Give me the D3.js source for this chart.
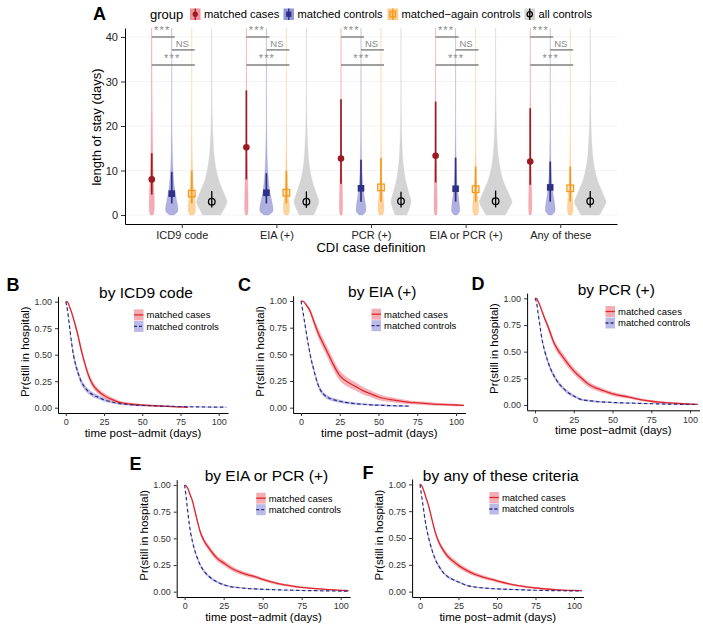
<!DOCTYPE html>
<html>
<head>
<meta charset="utf-8">
<script src="https://cdn.jsdelivr.net/npm/d3@7"></script>
<style>
  body { margin: 0; background: #fff; }
  svg text { font-family: "Liberation Sans", Arial, Helvetica, sans-serif; }
</style>
</head>
<body>
<svg id="fig" width="703" height="629"></svg>
<script>
// ---------- panel A : length of stay ----------
const categories = ["ICD9 code", "EIA (+)", "PCR (+)", "EIA or PCR (+)", "Any of these"];
const groups = ["matched cases", "matched controls", "matched\u2212again controls", "all controls"];
// per category: [cases, controls, again, all]
const medianLOS = [[8.0, 4.8, 4.8, 3.0], [15.2, 5.0, 5.0, 3.0], [12.7, 6.0, 6.2, 3.1], [13.3, 5.9, 5.8, 3.1], [12.0, 6.2, 6.0, 3.1]];
const lowerLOS  = [[4.6, 2.6, 2.6, 1.7], [8.0, 2.6, 2.6, 1.6], [7.0, 3.0, 3.0, 1.7], [7.3, 3.0, 3.0, 1.7], [6.8, 3.0, 3.0, 1.7]];
const upperLOS  = [[13.9, 9.7, 10.0, 5.4], [28.0, 9.4, 9.9, 5.3], [26.0, 12.4, 12.8, 5.2], [25.5, 12.9, 10.9, 5.5], [24.0, 12.0, 10.9, 5.4]];
// violin: relative size per category/group, and shape (relative width) over a grid of days
const violinSize = [[0.16, 0.39, 0.23, 0.96], [0.11, 0.42, 0.19, 0.78], [0.10, 0.31, 0.19, 0.63], [0.10, 0.26, 0.19, 1.02], [0.10, 0.31, 0.18, 0.99]];
const violinGrid = [0, 0.5, 1, 2, 3, 4, 5, 6, 8, 10, 12, 15, 20, 25, 30, 35, 40, 43];
const violinShape = [
  [0.5, 0.8, 0.95, 1, 1, 0.95, 0.9, 0.85, 0.7, 0.55, 0.45, 0.35, 0.25, 0.16, 0.12, 0.1, 0.08, 0.08],
  [0.35, 0.8, 1, 0.95, 0.82, 0.68, 0.55, 0.45, 0.3, 0.2, 0.14, 0.09, 0.04, 0.025, 0.02, 0.015, 0.015, 0.015],
  [0.5, 0.85, 1, 1, 0.88, 0.74, 0.6, 0.5, 0.34, 0.24, 0.17, 0.11, 0.05, 0.03, 0.02, 0.018, 0.015, 0.015],
  [0.58, 0.67, 0.75, 0.9, 1.0, 0.9, 0.78, 0.66, 0.44, 0.3, 0.2, 0.12, 0.05, 0.025, 0.015, 0.012, 0.01, 0.01]
];
const sigPairs = [[0, 1], [1, 2], [0, 2]];
const sigLabels = ["***", "NS", "***"];
const sigLevel = [40, 37.1, 33.7];
const losTicks = [0, 10, 20, 30, 40];

// ---------- panels B-F : survival ----------
const panelLetters = ["B", "C", "D", "E", "F"];
const panelTitles = ["by ICD9 code", "by EIA (+)", "by PCR (+)", "by EIA or PCR (+)", "by any of these criteria"];
const survTime = [0, 1, 2, 3, 4, 5, 6, 8, 10, 12, 15, 18, 21, 25, 30, 35, 40, 45, 50, 60, 70, 75, 80, 90, 100, 105];
const survCases = [
  [1, 1, 0.97, 0.93, 0.89, 0.84, 0.79, 0.68, 0.55, 0.44, 0.30, 0.21, 0.16, 0.115, 0.078, 0.05, 0.038, 0.03, 0.025, 0.017, 0.01, 0.007, 0.004, null, null, null],
  [1, 1, 0.99, 0.97, 0.95, 0.93, 0.90, 0.82, 0.74, 0.67, 0.58, 0.49, 0.40, 0.30, 0.24, 0.20, 0.16, 0.13, 0.10, 0.07, 0.05, 0.045, 0.04, 0.03, 0.025, 0.022],
  [1, 1, 0.97, 0.94, 0.90, 0.86, 0.82, 0.75, 0.67, 0.59, 0.51, 0.45, 0.39, 0.32, 0.25, 0.19, 0.155, 0.13, 0.105, 0.075, 0.045, 0.035, 0.027, 0.016, 0.008, 0.006],
  [1, 0.99, 0.97, 0.93, 0.89, 0.85, 0.79, 0.67, 0.56, 0.49, 0.42, 0.36, 0.31, 0.27, 0.22, 0.185, 0.16, 0.14, 0.115, 0.075, 0.05, 0.04, 0.033, 0.022, 0.013, 0.01],
  [1, 0.99, 0.96, 0.92, 0.87, 0.83, 0.78, 0.66, 0.55, 0.47, 0.39, 0.33, 0.29, 0.245, 0.20, 0.165, 0.14, 0.12, 0.10, 0.065, 0.043, 0.034, 0.027, 0.017, 0.011, 0.01]
];
const survControls = [
  [1, 0.93, 0.82, 0.70, 0.59, 0.50, 0.43, 0.33, 0.25, 0.20, 0.15, 0.12, 0.10, 0.075, 0.055, 0.04, 0.032, 0.026, 0.022, 0.016, 0.012, 0.01, 0.009, 0.007, 0.006, 0.006],
  [1, 0.92, 0.83, 0.74, 0.65, 0.57, 0.49, 0.37, 0.26, 0.18, 0.12, 0.09, 0.075, 0.06, 0.047, 0.038, 0.032, 0.027, 0.023, 0.018, 0.015, null, null, null, null, null],
  [1, 0.96, 0.86, 0.76, 0.66, 0.58, 0.52, 0.42, 0.34, 0.28, 0.21, 0.16, 0.12, 0.085, 0.05, 0.04, 0.032, 0.027, 0.023, 0.018, 0.014, 0.012, 0.01, 0.007, 0.005, 0.004],
  [1, 0.88, 0.75, 0.63, 0.54, 0.47, 0.41, 0.32, 0.25, 0.20, 0.15, 0.115, 0.09, 0.065, 0.045, 0.037, 0.03, 0.026, 0.022, 0.017, 0.013, 0.011, 0.01, 0.008, 0.006, 0.006],
  [1, 0.90, 0.80, 0.70, 0.61, 0.54, 0.48, 0.38, 0.30, 0.245, 0.18, 0.14, 0.115, 0.09, 0.06, 0.045, 0.036, 0.03, 0.026, 0.02, 0.015, 0.013, 0.011, 0.009, 0.007, 0.006]
];
// confidence band half-widths
const ciCases = [
  [0, 0.005, 0.01, 0.015, 0.02, 0.022, 0.025, 0.03, 0.032, 0.033, 0.032, 0.03, 0.027, 0.023, 0.02, 0.016, 0.014, 0.012, 0.011, 0.009, 0.007, 0.006, 0.005, 0, 0, 0],
  [0, 0.004, 0.008, 0.013, 0.018, 0.022, 0.027, 0.035, 0.042, 0.046, 0.049, 0.05, 0.05, 0.048, 0.044, 0.04, 0.036, 0.032, 0.028, 0.022, 0.018, 0.016, 0.015, 0.013, 0.012, 0.011],
  [0, 0.004, 0.008, 0.012, 0.016, 0.02, 0.023, 0.028, 0.032, 0.034, 0.035, 0.035, 0.034, 0.032, 0.029, 0.026, 0.023, 0.02, 0.018, 0.015, 0.012, 0.011, 0.01, 0.008, 0.006, 0.005],
  [0, 0.003, 0.006, 0.009, 0.012, 0.015, 0.018, 0.022, 0.025, 0.026, 0.027, 0.027, 0.026, 0.025, 0.023, 0.021, 0.019, 0.017, 0.015, 0.012, 0.01, 0.009, 0.008, 0.006, 0.005, 0.005],
  [0, 0.003, 0.006, 0.009, 0.012, 0.015, 0.017, 0.021, 0.024, 0.025, 0.026, 0.026, 0.025, 0.024, 0.022, 0.02, 0.018, 0.016, 0.014, 0.011, 0.009, 0.008, 0.007, 0.006, 0.005, 0.005]
];
const ciControls = [
  [0, 0.01, 0.018, 0.024, 0.028, 0.03, 0.031, 0.031, 0.029, 0.027, 0.024, 0.021, 0.019, 0.016, 0.013, 0.011, 0.01, 0.009, 0.008, 0.007, 0.006, 0.005, 0.005, 0.004, 0.004, 0.004],
  [0, 0.01, 0.016, 0.02, 0.023, 0.025, 0.026, 0.026, 0.025, 0.023, 0.02, 0.018, 0.016, 0.014, 0.012, 0.011, 0.01, 0.009, 0.008, 0.007, 0.006, 0, 0, 0, 0, 0],
  [0, 0.008, 0.014, 0.018, 0.021, 0.023, 0.024, 0.024, 0.023, 0.022, 0.02, 0.018, 0.016, 0.013, 0.01, 0.009, 0.008, 0.007, 0.006, 0.005, 0.005, 0.004, 0.004, 0.003, 0.003, 0.003],
  [0, 0.006, 0.01, 0.013, 0.015, 0.016, 0.017, 0.017, 0.016, 0.015, 0.013, 0.012, 0.01, 0.009, 0.007, 0.006, 0.006, 0.005, 0.005, 0.004, 0.004, 0.003, 0.003, 0.003, 0.003, 0.003],
  [0, 0.006, 0.01, 0.013, 0.015, 0.016, 0.017, 0.017, 0.016, 0.015, 0.013, 0.012, 0.01, 0.009, 0.007, 0.006, 0.006, 0.005, 0.005, 0.004, 0.004, 0.003, 0.003, 0.003, 0.003, 0.003]
];
const survTicksX = [0, 25, 50, 75, 100];
const survTicksY = [0, 0.25, 0.5, 0.75, 1];
const survLegend = ["matched cases", "matched controls"];

// ---------- styles ----------
const darkCol = ["#9b1b22", "#2e2f86", "#f39a1e", "#000000"];
const violinCol = ["#ee7e88", "#8486cf", "#fcc074", "#d4d4d4"];
const violinOp = [0.65, 0.65, 0.7, 1];
const caseLine = "#e0262f", caseBand = "#f19aa0";
const ctrlLine = "#2d2d80", ctrlBand = "#a9a9e2";

const svg = d3.select("#fig");
svg.append("rect").attr("width", 703).attr("height", 629).attr("fill", "#fff");

// ================= Panel A =================
const aBox = { left: 125, right: 617, top: 28, bottom: 224 };
const yA = d3.scaleLinear().domain([-2.02, 42.02]).range([aBox.bottom, aBox.top]);
const xA = d3.scalePoint().domain(categories).range([aBox.left, aBox.right]).padding(0.6);
const dodge = d3.scaleBand().domain(groups).range([-40, 40]);
const wA = d3.scaleLinear().domain([0, 1]).range([0, 16]);
const gx = (ci, gi) => xA(categories[ci]) + dodge(groups[gi]) + dodge.bandwidth() / 2;

svg.append("clipPath").attr("id", "clipA").append("rect")
  .attr("x", aBox.left).attr("y", aBox.top)
  .attr("width", aBox.right - aBox.left).attr("height", aBox.bottom - aBox.top);

const gA = svg.append("g");
gA.selectAll("line.grid").data(losTicks).join("line")
  .attr("x1", aBox.left).attr("x2", aBox.right)
  .attr("y1", d => yA(d)).attr("y2", d => yA(d))
  .attr("stroke", "#ececec").attr("stroke-width", 0.7);

const plotA = gA.append("g").attr("clip-path", "url(#clipA)");

categories.forEach((cat, ci) => {
  groups.forEach((grp, gi) => {
    const cx = gx(ci, gi);
    const pts = violinGrid.map((v, k) => ({ v: v, w: wA(violinSize[ci][gi] * violinShape[gi][k]) }));
    const area = d3.area()
      .y(d => yA(d.v))
      .x0(d => cx - d.w).x1(d => cx + d.w)
      .curve(d3.curveMonotoneY);
    plotA.append("path").attr("d", area(pts))
      .attr("fill", violinCol[gi]).attr("fill-opacity", violinOp[gi])
      .attr("stroke", violinCol[gi]).attr("stroke-opacity", violinOp[gi]).attr("stroke-width", 0.35);
  });
  groups.forEach((grp, gi) => {
    const cx = gx(ci, gi);
    plotA.append("line")
      .attr("x1", cx).attr("x2", cx)
      .attr("y1", yA(lowerLOS[ci][gi])).attr("y2", yA(upperLOS[ci][gi]))
      .attr("stroke", darkCol[gi]).attr("stroke-width", gi === 3 ? 1.3 : 1.7);
    drawPoint(plotA, gi, cx, yA(medianLOS[ci][gi]), 1);
  });
  // significance brackets
  sigPairs.forEach((pr, k) => {
    const x1 = gx(ci, pr[0]), x2 = gx(ci, pr[1]) + 3;
    const yy = yA(sigLevel[k]);
    gA.append("line").attr("x1", x1).attr("x2", x2).attr("y1", yy).attr("y2", yy)
      .attr("stroke", "#7f7f7f").attr("stroke-width", 1.4);
    gA.append("text").attr("x", (x1 + x2) / 2 - 1).attr("y", yy - 3)
      .attr("text-anchor", "middle").attr("fill", "#8a8a8a")
      .attr("font-size", sigLabels[k] === "NS" ? 9.5 : 11)
      .attr("letter-spacing", sigLabels[k] === "NS" ? 0 : 1.2)
      .text(sigLabels[k]);
  });
});

function drawPoint(g, gi, cx, cy, s) {
  if (gi === 0) {
    g.append("circle").attr("cx", cx).attr("cy", cy).attr("r", 3.3 * s).attr("fill", darkCol[0]);
  } else if (gi === 1) {
    g.append("rect").attr("x", cx - 3.3 * s).attr("y", cy - 3.3 * s)
      .attr("width", 6.6 * s).attr("height", 6.6 * s).attr("fill", darkCol[1]);
  } else if (gi === 2) {
    g.append("rect").attr("x", cx - 3.3 * s).attr("y", cy - 3.3 * s)
      .attr("width", 6.6 * s).attr("height", 6.6 * s)
      .attr("fill", "none").attr("stroke", darkCol[2]).attr("stroke-width", 1.3);
  } else {
    g.append("circle").attr("cx", cx).attr("cy", cy).attr("r", 3.3 * s)
      .attr("fill", "none").attr("stroke", darkCol[3]).attr("stroke-width", 1.3);
  }
}

// axes A
const axYA = gA.append("g").attr("transform", `translate(${aBox.left},0)`)
  .call(d3.axisLeft(yA).tickValues(losTicks).tickSize(4).tickSizeOuter(0));
const axXA = gA.append("g").attr("transform", `translate(0,${aBox.bottom})`)
  .call(d3.axisBottom(xA).tickSize(4).tickSizeOuter(0));
[axYA, axXA].forEach(ax => {
  ax.select(".domain").attr("stroke", "#000").attr("stroke-width", 1);
  ax.selectAll(".tick line").attr("stroke", "#333");
  ax.selectAll(".tick text").attr("fill", "#222").attr("font-size", 11)
    .attr("font-family", "Liberation Sans, Arial, sans-serif");
});

svg.append("text").attr("transform", `translate(101,${(aBox.top + aBox.bottom) / 2 + 1}) rotate(-90)`)
  .attr("text-anchor", "middle").attr("font-size", 13).text("length of stay (days)");
svg.append("text").attr("x", (aBox.left + aBox.right) / 2).attr("y", 251.5)
  .attr("text-anchor", "middle").attr("font-size", 13).text("CDI case definition");
svg.append("text").attr("x", 93).attr("y", 19.5).attr("font-size", 18).attr("font-weight", "bold").text("A");

// legend A
const legA = svg.append("g");
legA.append("text").attr("x", 150).attr("y", 18.5).attr("font-size", 13).text("group");
const legX = [190, 283.5, 387.5, 524.5];
groups.forEach((grp, gi) => {
  const kx = legX[gi];
  legA.append("rect").attr("x", kx).attr("y", 8.5).attr("width", 10.5).attr("height", 11.5)
    .attr("fill", violinCol[gi]).attr("fill-opacity", gi === 3 ? 1 : 0.85);
  legA.append("line").attr("x1", kx + 5.25).attr("x2", kx + 5.25).attr("y1", 8.5).attr("y2", 20)
    .attr("stroke", darkCol[gi]).attr("stroke-width", 1.3);
  drawPoint(legA, gi, kx + 5.25, 14.25, 0.8);
  legA.append("text").attr("x", kx + 14).attr("y", 18.3).attr("font-size", 11.2).text(grp);
});

// ================= Panels B-F =================
const boxes = [
  { l: 58, r: 228, t: 296.4, b: 413, lx: 6.5, ly: 291 },
  { l: 293.1, r: 465.5, t: 295.7, b: 413, lx: 238, ly: 291 },
  { l: 527.1, r: 699.5, t: 293, b: 410.3, lx: 471.5, ly: 289.5 },
  { l: 176.7, r: 350.2, t: 479.7, b: 597, lx: 129.5, ly: 470 },
  { l: 412.1, r: 583.4, t: 479, b: 597, lx: 362.5, ly: 478.5 }
];

boxes.forEach((p, i) => {
  const x = d3.scaleLinear().domain([-5.1, 106.1]).range([p.l, p.r]);
  const y = d3.scaleLinear().domain([-0.05, 1.05]).range([p.b, p.t]);
  const g = svg.append("g");
  const clipId = "clip" + panelLetters[i];
  svg.append("clipPath").attr("id", clipId).append("rect")
    .attr("x", p.l).attr("y", p.t).attr("width", p.r - p.l).attr("height", p.b - p.t);
  const pg = g.append("g").attr("clip-path", `url(#${clipId})`);

  const mk = (s, c) => survTime.map((t, k) => ({ t: t, s: s[k], c: c[k] })).filter(d => d.s != null);
  const cases = mk(survCases[i], ciCases[i]);
  const ctrls = mk(survControls[i], ciControls[i]);
  const band = d3.area().x(d => x(d.t))
    .y0(d => y(Math.max(0, d.s - d.c))).y1(d => y(Math.min(1, d.s + d.c)))
    .curve(d3.curveMonotoneX);
  const line = d3.line().x(d => x(d.t)).y(d => y(d.s)).curve(d3.curveMonotoneX);

  pg.append("path").attr("d", band(ctrls)).attr("fill", ctrlBand).attr("fill-opacity", 0.8);
  pg.append("path").attr("d", band(cases)).attr("fill", caseBand).attr("fill-opacity", 0.75);
  pg.append("path").attr("d", line(cases)).attr("fill", "none").attr("stroke", caseLine).attr("stroke-width", 1.3);
  pg.append("path").attr("d", line(ctrls)).attr("fill", "none").attr("stroke", ctrlLine)
    .attr("stroke-width", 1.2).attr("stroke-dasharray", "3.5,2.5");

  const axX = g.append("g").attr("transform", `translate(0,${p.b})`)
    .call(d3.axisBottom(x).tickValues(survTicksX).tickSize(3).tickSizeOuter(0));
  const axY = g.append("g").attr("transform", `translate(${p.l},0)`)
    .call(d3.axisLeft(y).tickValues(survTicksY).tickFormat(d3.format(".2f")).tickSize(3).tickSizeOuter(0));
  [axX, axY].forEach(ax => {
    ax.select(".domain").attr("stroke", "#000").attr("stroke-width", 1);
    ax.selectAll(".tick line").attr("stroke", "#333");
    ax.selectAll(".tick text").attr("fill", "#333").attr("font-size", 9)
      .attr("font-family", "Liberation Sans, Arial, sans-serif");
  });

  g.append("text").attr("x", (p.l + p.r) / 2 + 3).attr("y", p.t + 1.5)
    .attr("text-anchor", "middle").attr("font-size", 15.5).text(panelTitles[i]);
  g.append("text").attr("x", p.lx).attr("y", p.ly).attr("font-size", 18).attr("font-weight", "bold").text(panelLetters[i]);
  g.append("text").attr("x", (p.l + p.r) / 2).attr("y", p.b + 23.7)
    .attr("text-anchor", "middle").attr("font-size", 11.5).text("time post\u2212admit (days)");
  g.append("text").attr("transform", `translate(${p.l - 29},${(y(0) + y(1)) / 2 - 3}) rotate(-90)`)
    .attr("text-anchor", "middle").attr("font-size", 11.5).text("Pr(still in hospital)");

  // legend
  const kx = p.r - 94;
  survLegend.forEach((lab, k) => {
    const cy = p.t + 18.5 + k * 11.5;
    g.append("rect").attr("x", kx).attr("y", cy - 5.5).attr("width", 9.5).attr("height", 11)
      .attr("fill", k === 0 ? caseBand : ctrlBand).attr("fill-opacity", 0.8);
    g.append("line").attr("x1", kx).attr("x2", kx + 9.5).attr("y1", cy).attr("y2", cy)
      .attr("stroke", k === 0 ? caseLine : ctrlLine).attr("stroke-width", 1.3)
      .attr("stroke-dasharray", k === 0 ? null : "3,2");
    g.append("text").attr("x", kx + 12.5).attr("y", cy + 3.4).attr("font-size", 9.5).text(lab);
  });
});
</script>
</body>
</html>
